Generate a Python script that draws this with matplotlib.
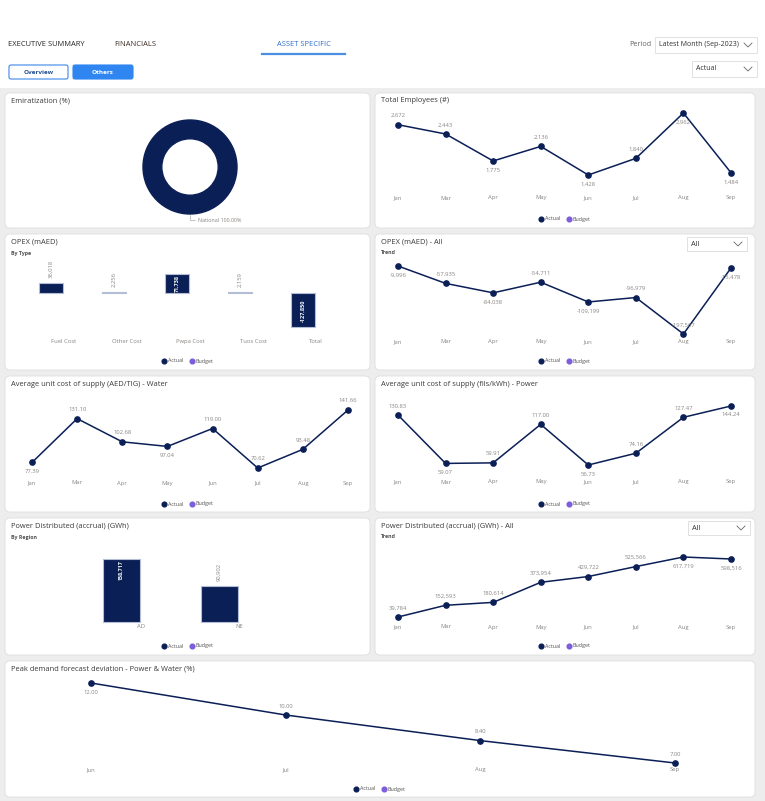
import matplotlib
matplotlib.use('Agg')
import matplotlib.pyplot as plt
from matplotlib.patches import FancyBboxPatch, Rectangle
from matplotlib.lines import Line2D

plt.rcParams['font.family'] = ['Open Sans', 'DejaVu Sans']

# ---- data ----
months8 = ['Jan', 'Mar', 'Apr', 'May', 'Jun', 'Jul', 'Aug', 'Sep']
employees = [2672, 2443, 1775, 2136, 1428, 1840, 2962, 1484]
opex_trend = [-9996, -57935, -84038, -54711, -109199, -96979, -197567, -15478]
water_cost = [77.39, 131.10, 102.68, 97.04, 119.00, 70.62, 93.48, 141.66]
power_cost = [130.83, 59.07, 59.91, 117.00, 56.73, 74.16, 127.47, 144.24]
power_dist_trend = [39784, 152593, 180614, 373954, 429722, 525566, 617719, 598516]
peak_months = ['Jun', 'Jul', 'Aug', 'Sep']
peak_dev = [12.00, 10.00, 8.40, 7.00]
opex_types = ['Fuel Cost', 'Other Cost', 'Pwpa Cost', 'Tuos Cost', 'Total']
opex_by_type = [36018, 2256, 71738, 2159, -127850]
regions = ['AD', 'NE']
power_by_region = [158717, 90902]
emir_labels = ['National']
emir_share = [100.0]

W, H = 765, 801
NAVY = '#0b1f57'
PURPLE = '#7d5ddb'
GREY = '#8a8682'
TITLE = '#3a3a3a'


def frect(x0, y0, x1, y1):
    # pixel box (top-left origin) -> figure fraction rect
    return [x0 / W, 1 - y1 / H, (x1 - x0) / W, (y1 - y0) / H]


fig = plt.figure(figsize=(W / 100, H / 100), dpi=100)
fig.patch.set_facecolor('#ededed')
bg = fig.add_axes([0, 0, 1, 1])
bg.set_xlim(0, W)
bg.set_ylim(H, 0)
bg.axis('off')
bg.add_patch(Rectangle((0, 0), W, 88, color='white', lw=0))


def chevron(x, y):
    bg.plot([x - 4, x, x + 4], [y - 2, y + 2, y - 2], color='#666666', lw=0.6)


def dropdown(x0, y0, x1, y1, text, fs=5):
    bg.add_patch(Rectangle((x0, y0), x1 - x0, y1 - y0, fc='white', ec='#dcdcdc', lw=0.6))
    bg.text(x0 + 4, (y0 + y1) / 2, text, fontsize=fs, color='#333333', va='center')
    chevron(x1 - 9, (y0 + y1) / 2)


# ---- header ----
bg.text(8, 45, 'EXECUTIVE SUMMARY', fontsize=5.4, color='#252423', va='center')
bg.text(114, 45, 'FINANCIALS', fontsize=5.4, color='#3b2a22', va='center')
bg.text(277, 45, 'ASSET SPECIFIC', fontsize=5.4, color='#2f6fc9', va='center')
bg.plot([262, 345], [53.5, 53.5], color='#4a8fe0', lw=1.6)
bg.text(629, 45, 'Period', fontsize=5.2, color='#666666', va='center')
dropdown(655, 37, 757, 53, 'Latest Month (Sep-2023)', fs=5)
bg.add_patch(FancyBboxPatch((9, 65), 59, 14, boxstyle='round,pad=0,rounding_size=2',
                            fc='white', ec='#3b86e8', lw=0.8))
bg.text(38.5, 72, 'Overview', fontsize=4.6, color='#1d4f91', weight='bold', ha='center', va='center')
bg.add_patch(FancyBboxPatch((73, 65), 60, 14, boxstyle='round,pad=0,rounding_size=2',
                            fc='#2f86f0', ec='#2f86f0', lw=0.8))
bg.text(103, 72, 'Others', fontsize=4.6, color='white', weight='bold', ha='center', va='center')
dropdown(692, 61, 757, 77, 'Actual', fs=5)


def panel(x0, y0, x1, y1, title, sub=None):
    bg.add_patch(FancyBboxPatch((x0, y0), x1 - x0, y1 - y0, boxstyle='round,pad=0,rounding_size=5',
                                fc='white', ec='#dedede', lw=0.6))
    bg.text(x0 + 6, y0 + 8, title, fontsize=5.4, color=TITLE, va='center')
    if sub:
        bg.text(x0 + 6, y0 + 19, sub, fontsize=3.8, color='#505050', weight='bold', va='center')


def legend(cx, cy):
    handles = [Line2D([], [], ls='', marker='o', ms=3.4, color=NAVY, label='Actual'),
               Line2D([], [], ls='', marker='o', ms=3.4, color=PURPLE, label='Budget')]
    fig.legend(handles=handles, loc='center', bbox_to_anchor=(cx / W, 1 - cy / H), ncol=2,
               frameon=False, fontsize=3.9, handlelength=0.6, handletextpad=0.3,
               columnspacing=1.4, labelcolor='#555555', borderpad=0)


def clean(ax):
    ax.set_facecolor('none')
    ax.set_yticks([])
    for s in ax.spines.values():
        s.set_visible(False)


def line_chart(x_first, x_last, y_top, y_bot, y_lab, cats, vals, where, fmt, pad=0.5):
    n = len(vals)
    step = (x_last - x_first) / (n - 1)
    ax = fig.add_axes(frect(x_first - step * pad, y_top, x_last + step * pad, y_lab))
    clean(ax)
    hi, lo = max(vals), min(vals)
    ax.set_ylim(lo - (hi - lo) * (y_lab - y_bot) / (y_bot - y_top), hi)
    ax.set_xlim(-pad, n - 1 + pad)
    ax.plot(range(n), vals, color=NAVY, lw=1.1, marker='o', ms=3.8, clip_on=False)
    ax.set_xticks(range(n), cats)
    ax.tick_params(axis='x', length=0, pad=0, labelsize=4.2, labelcolor=GREY)
    for t in ax.get_xticklabels():
        t.set_va('center')
    for i, (v, w) in enumerate(zip(vals, where)):
        ax.annotate(fmt(v), (i, v), xytext=(0, 9 if w == 'a' else -9), textcoords='offset pixels',
                    ha='center', va='center', fontsize=4.2, color=GREY)
    return ax


def bar_chart(cx_first, spacing, y_top, y_base, y_lab, per_px, cats, vals, inside):
    # inside: 'i' = label inside the bar end, 'o' = label above the bar
    n = len(vals)
    ax = fig.add_axes(frect(cx_first - spacing / 2, y_top, cx_first + spacing * (n - 0.5), y_lab))
    clean(ax)
    ax.set_xlim(-0.5, n - 0.5)
    ax.set_ylim(-(y_lab - y_base) * per_px, (y_base - y_top) * per_px)
    xs = [i - 0.2 for i in range(n)]
    ax.bar(xs, vals, width=0.38, color=NAVY, edgecolor='#b4bdd6', lw=0.8)
    ax.set_xticks(range(n), cats)
    ax.tick_params(axis='x', length=0, pad=0, labelsize=4.2, labelcolor=GREY)
    for t in ax.get_xticklabels():
        t.set_va('center')
    for x, v, p in zip(xs, vals, inside):
        txt = f'{v:,.0f}'
        if p == 'i' and v > 0:
            ax.annotate(txt, (x, v), xytext=(0, -1), textcoords='offset pixels', rotation=90,
                        ha='center', va='top', fontsize=3.9, color='white', weight='bold')
        elif p == 'i':
            ax.annotate(txt, (x, v), xytext=(0, 5), textcoords='offset pixels', rotation=90,
                        ha='center', va='bottom', fontsize=4.0, color='white', weight='bold')
        else:
            ax.annotate(txt, (x, v), xytext=(0, 5), textcoords='offset pixels', rotation=90,
                        ha='center', va='bottom', fontsize=4.2, color=GREY)
    return ax


thousands = lambda v: f'{v:,.0f}'
twodp = lambda v: f'{v:.2f}'

# ---- Emiratization ----
panel(5, 93, 370, 228, 'Emiratization (%)')
ax = fig.add_axes(frect(143, 120, 237, 214))
ax.pie(emir_share, colors=[NAVY], radius=1, startangle=90,
       wedgeprops=dict(width=0.4, edgecolor=NAVY))
ax.set_xlim(-1, 1)
ax.set_ylim(-1, 1)
ax.annotate(f'{emir_labels[0]} {emir_share[0]:.2f}%', (0, -1), xytext=(8, -6),
            textcoords='offset pixels', ha='left', va='center', fontsize=3.9, color=GREY,
            arrowprops=dict(arrowstyle='-', color='#aaaaaa', lw=0.5,
                            connectionstyle='angle,angleA=0,angleB=90,rad=0', shrinkA=0, shrinkB=1))

# ---- Total Employees ----
panel(375, 93, 755, 228, 'Total Employees (#)')
line_chart(398, 731, 113, 175, 198, months8, employees, 'aabababb', thousands)
legend(565, 219)

# ---- OPEX by type ----
panel(5, 234, 370, 370, 'OPEX (mAED)', 'By Type')
bar_chart(64, 63, 262, 293, 342, 3760, opex_types, opex_by_type, 'ooioi')
legend(188, 361)

# ---- OPEX trend ----
panel(375, 234, 755, 370, 'OPEX (mAED) - All', 'Trend')
dropdown(687, 237, 747, 251, 'All', fs=5.4)
line_chart(398, 731, 266, 334, 342, months8, opex_trend, 'bababaab', thousands)
legend(565, 361)

# ---- Water unit cost ----
panel(5, 376, 370, 512, 'Average unit cost of supply (AED/TIG) - Water')
line_chart(32, 348, 410, 468, 483, months8, water_cost, 'baabaaaa', twodp)
legend(188, 504)

# ---- Power unit cost ----
panel(375, 376, 755, 512, 'Average unit cost of supply (fils/kWh) - Power')
line_chart(398, 731, 406, 465, 482, months8, power_cost, 'abaabaab', twodp)
legend(565, 504)

# ---- Power distributed by region ----
panel(5, 518, 370, 655, 'Power Distributed (accrual) (GWh)', 'By Region')
bar_chart(141, 98, 545, 622, 627, 2519, regions, power_by_region, 'io')
legend(188, 646)

# ---- Power distributed trend ----
panel(375, 518, 755, 655, 'Power Distributed (accrual) (GWh) - All', 'Trend')
dropdown(688, 521, 750, 535, 'All', fs=5.4)
line_chart(398, 731, 557, 617, 627, months8, power_dist_trend, 'aaaaaabb', thousands)
legend(565, 646)

# ---- Peak demand ----
panel(5, 661, 755, 797, 'Peak demand forecast deviation - Power & Water (%)')
line_chart(91, 675, 683, 763, 770, peak_months, peak_dev, 'baaa', twodp, pad=0.35)
legend(380, 789)

fig.savefig('out.png', dpi=100, facecolor=fig.get_facecolor())
